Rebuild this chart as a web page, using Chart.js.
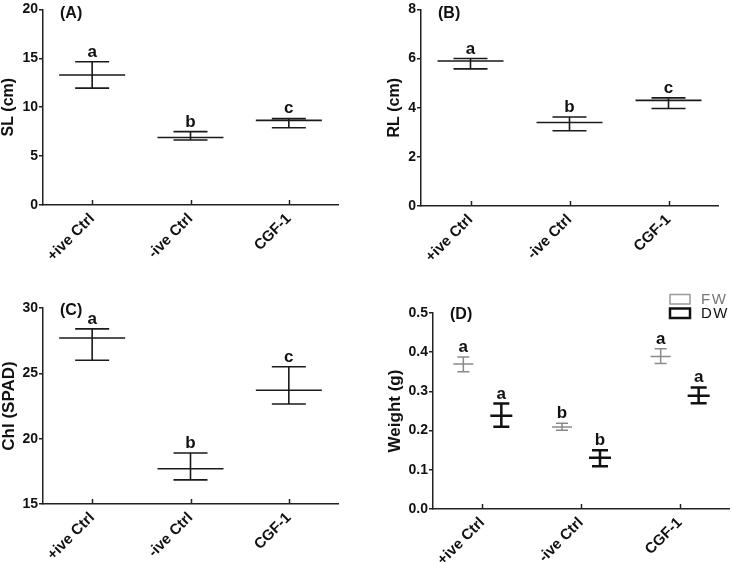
<!DOCTYPE html>
<html>
<head>
<meta charset="utf-8">
<script src="https://cdn.jsdelivr.net/npm/chart.js@4"></script>
<style>
  html, body { margin: 0; padding: 0; background: #fff; }
  body { width: 733px; height: 562px; position: relative; overflow: hidden; }
  .panel { position: absolute; }
</style>
</head>
<body>
<div class="panel" id="pA"><canvas id="cA"></canvas></div>
<div class="panel" id="pB"><canvas id="cB"></canvas></div>
<div class="panel" id="pC"><canvas id="cC"></canvas></div>
<div class="panel" id="pD"><canvas id="cD"></canvas></div>
<script>
// ---------- data ----------
const categories = ['+ive Ctrl', '-ive Ctrl', 'CGF-1'];

const slMean  = [13.3, 6.9, 8.65];
const slUpper = [14.65, 7.5, 8.85];
const slLower = [11.95, 6.65, 7.9];
const slLetters = ['a', 'b', 'c'];

const rlMean  = [5.9, 3.4, 4.3];
const rlUpper = [6.0, 3.62, 4.4];
const rlLower = [5.58, 3.06, 3.97];
const rlLetters = ['a', 'b', 'c'];

const chlMean  = [27.7, 17.7, 23.7];
const chlUpper = [28.4, 18.9, 25.5];
const chlLower = [26.0, 16.85, 22.65];
const chlLetters = ['a', 'b', 'c'];

const fwMean  = [0.370, 0.209, 0.389];
const fwUpper = [0.388, 0.219, 0.409];
const fwLower = [0.350, 0.201, 0.371];
const fwLetters = ['a', 'b', 'a'];

const dwMean  = [0.238, 0.131, 0.289];
const dwUpper = [0.269, 0.150, 0.310];
const dwLower = [0.210, 0.109, 0.270];
const dwLetters = ['a', 'b', 'a'];

const legendLabels = ['FW', 'DW'];

// ---------- helpers ----------
const FONT = '"Liberation Sans", Arial, sans-serif';

const errorPlugin = {
  id: 'errorBars',
  afterDatasetsDraw(chart) {
    const ctx = chart.ctx;
    const ys = chart.scales.y;
    const xs = chart.scales.x;
    const area = chart.chartArea;
    ctx.save();
    // inward x ticks
    ctx.strokeStyle = '#222';
    ctx.lineWidth = 1.5;
    categories.forEach((c, i) => {
      const px = Math.round(xs.getPixelForValue(i)) + 0.5;
      ctx.beginPath();
      ctx.moveTo(px, area.bottom);
      ctx.lineTo(px, area.bottom - 5);
      ctx.stroke();
    });
    chart.data.datasets.forEach((ds, di) => {
      const meta = chart.getDatasetMeta(di);
      const st = ds.errStyle;
      ctx.strokeStyle = st.color;
      ctx.lineWidth = st.width;
      meta.data.forEach((el, j) => {
        const x = el.x;
        const yM = ys.getPixelForValue(ds.data[j]);
        const yU = ys.getPixelForValue(ds.upper[j]);
        const yL = ys.getPixelForValue(ds.lower[j]);
        ctx.beginPath();
        ctx.moveTo(x, yU); ctx.lineTo(x, yL);
        ctx.moveTo(x - st.cap, yU); ctx.lineTo(x + st.cap, yU);
        ctx.moveTo(x - st.cap, yL); ctx.lineTo(x + st.cap, yL);
        ctx.moveTo(x - st.mean, yM); ctx.lineTo(x + st.mean, yM);
        ctx.stroke();
        ctx.fillStyle = '#111';
        ctx.font = 'bold 17px ' + FONT;
        ctx.textAlign = 'center';
        ctx.textBaseline = 'alphabetic';
        ctx.fillText(ds.letters[j], x, yU - 5);
      });
    });
    // panel label
    ctx.fillStyle = '#111';
    ctx.font = 'bold 16px ' + FONT;
    ctx.textAlign = 'left';
    ctx.textBaseline = 'middle';
    ctx.fillText(chart.options.panelLabel, area.left + chart.options.panelLabelDx, area.top + chart.options.panelLabelDy);
    // legend
    if (chart.options.showLegend) {
      const lx = area.right - 59, ly = area.top - 14;
      const items = [
        {t: legendLabels[0], c: '#999', w: 1.5, y: ly},
        {t: legendLabels[1], c: '#111', w: 2.5, y: ly + 14}
      ];
      items.forEach(it => {
        ctx.strokeStyle = it.c;
        ctx.lineWidth = it.w;
        ctx.strokeRect(lx, it.y - 4.5, 20, 9.5);
        ctx.fillStyle = it.c === '#999' ? '#777' : '#111';
        ctx.font = '15px ' + FONT;
        ctx.textAlign = 'left';
        ctx.textBaseline = 'middle';
        try { ctx.letterSpacing = '1.5px'; } catch (e) {}
        ctx.fillText(it.t, lx + 31, it.y + 0.5);
        try { ctx.letterSpacing = '0px'; } catch (e) {}
      });
    }
    ctx.restore();
  }
};

function makePanel(cfg) {
  const div = document.getElementById(cfg.div);
  div.style.left = cfg.box[0] + 'px';
  div.style.top = cfg.box[1] + 'px';
  div.style.width = cfg.box[2] + 'px';
  div.style.height = cfg.box[3] + 'px';
  const canvas = document.getElementById(cfg.canvas);
  canvas.width = cfg.box[2];
  canvas.height = cfg.box[3];
  const titleLeft = cfg.titleX - cfg.titleSize * 0.6;
  const padLeft = titleLeft - cfg.box[0];
  const yWidth = cfg.plot[0] - titleLeft;
  const padTop = cfg.plot[1] - cfg.box[1];
  const padRight = cfg.box[0] + cfg.box[2] - cfg.plot[2];
  const xHeight = cfg.box[1] + cfg.box[3] - cfg.plot[3];

  return new Chart(canvas, {
    type: 'bar',
    data: {
      labels: categories,
      datasets: cfg.datasets.map(d => ({
        data: d.mean,
        upper: d.upper,
        lower: d.lower,
        letters: d.letters,
        errStyle: d.style,
        backgroundColor: 'rgba(0,0,0,0)',
        borderWidth: 0,
        categoryPercentage: cfg.catPct,
        barPercentage: 1
      }))
    },
    options: {
      responsive: false,
      devicePixelRatio: 1,
      animation: false,
      panelLabel: cfg.label,
      panelLabelDx: cfg.labelDx,
      panelLabelDy: cfg.labelDy,
      showLegend: !!cfg.legend,
      layout: { padding: { left: padLeft, top: padTop, right: padRight, bottom: 0 } },
      plugins: { legend: { display: false }, tooltip: { enabled: false } },
      scales: {
        x: {
          offset: true,
          grid: { display: false, drawTicks: false },
          border: { display: true, color: '#222', width: 1.5 },
          ticks: {
            color: '#111',
            font: { family: FONT, size: 15, weight: 'bold' },
            minRotation: 45, maxRotation: 45,
            padding: 5
          },
          afterFit(scale) { scale.height = xHeight; }
        },
        y: {
          min: cfg.yMin, max: cfg.yMax,
          grid: { drawOnChartArea: false, drawTicks: true, tickLength: 4, color: '#222', lineWidth: 1.5 },
          border: { display: true, color: '#222', width: 1.5 },
          ticks: {
            stepSize: cfg.step,
            color: '#111',
            padding: 1,
            font: { family: FONT, size: 14, weight: 'bold' },
            callback: cfg.fmt
          },
          title: {
            display: true, text: cfg.yTitle, color: '#111',
            font: { family: FONT, size: cfg.titleSize, weight: 'bold' },
            padding: { top: 0, bottom: 0 }
          },
          afterFit(scale) { scale.width = yWidth; }
        }
      }
    },
    plugins: [errorPlugin]
  });
}

const styleStd = { color: '#1a1a1a', width: 1.6, cap: 17, mean: 33 };

makePanel({
  div: 'pA', canvas: 'cA', box: [0, 0, 366, 270], plot: [43, 8, 338, 205], titleX: 9, titleSize: 16,
  yMin: 0, yMax: 20, step: 5, fmt: v => v, yTitle: 'SL (cm)', label: '(A)', labelDx: 17, labelDy: 4,
  catPct: 0.8,
  datasets: [{ mean: slMean, upper: slUpper, lower: slLower, letters: slLetters, style: styleStd }]
});
makePanel({
  div: 'pB', canvas: 'cB', box: [366, 0, 367, 270], plot: [421, 8, 718, 206], titleX: 395, titleSize: 16,
  yMin: 0, yMax: 8, step: 2, fmt: v => v, yTitle: 'RL (cm)', label: '(B)', labelDx: 17, labelDy: 4,
  catPct: 0.8,
  datasets: [{ mean: rlMean, upper: rlUpper, lower: rlLower, letters: rlLetters, style: styleStd }]
});
makePanel({
  div: 'pC', canvas: 'cC', box: [0, 270, 366, 292], plot: [43, 308, 338, 504], titleX: 9, titleSize: 17,
  yMin: 15, yMax: 30, step: 5, fmt: v => v, yTitle: 'Chl (SPAD)', label: '(C)', labelDx: 17, labelDy: 3,
  catPct: 0.8,
  datasets: [{ mean: chlMean, upper: chlUpper, lower: chlLower, letters: chlLetters, style: styleStd }]
});
makePanel({
  div: 'pD', canvas: 'cD', box: [366, 270, 367, 292], plot: [433, 313, 729, 509], titleX: 395, titleSize: 17,
  yMin: 0, yMax: 0.5, step: 0.1, fmt: v => Number(v).toFixed(1), yTitle: 'Weight (g)', label: '(D)', labelDx: 17, labelDy: 2,
  catPct: 0.77, legend: true,
  datasets: [
    { mean: fwMean, upper: fwUpper, lower: fwLower, letters: fwLetters, style: { color: '#8a8a8a', width: 1.5, cap: 6, mean: 10 } },
    { mean: dwMean, upper: dwUpper, lower: dwLower, letters: dwLetters, style: { color: '#111', width: 2.5, cap: 8, mean: 11 } }
  ]
});
</script>
</body>
</html>
